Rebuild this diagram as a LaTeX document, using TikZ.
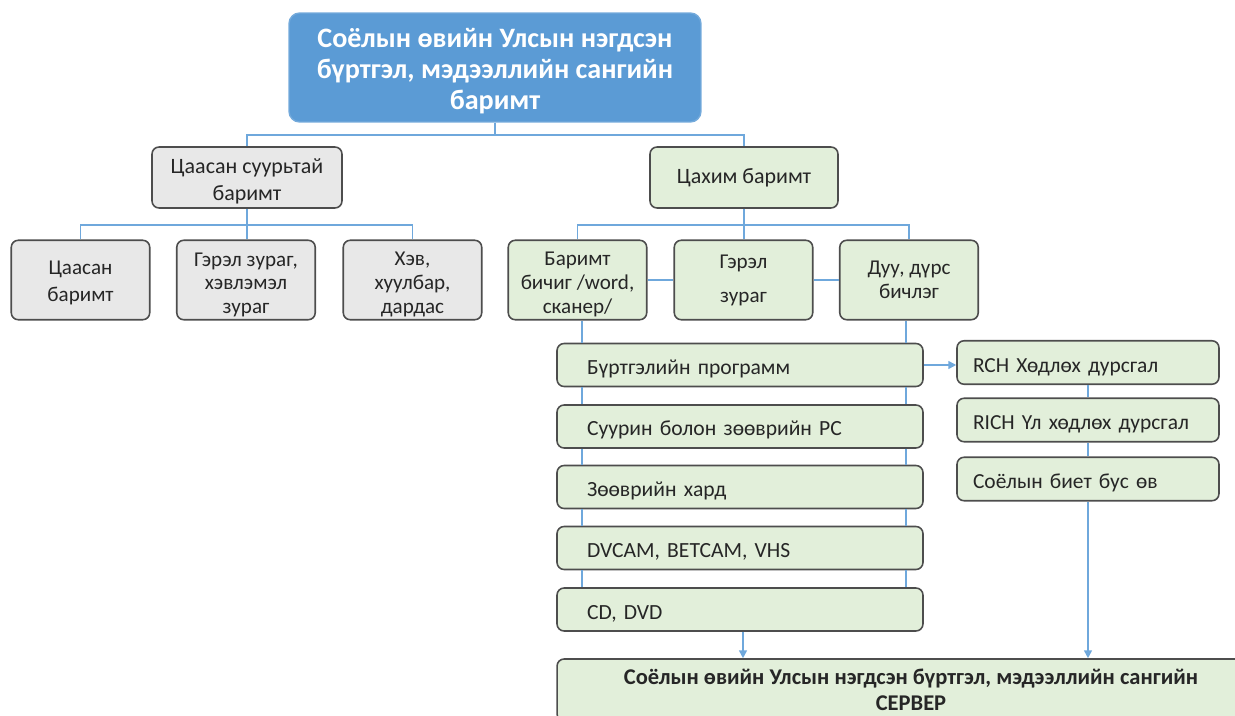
\documentclass[tikz,border=0pt]{standalone}
\usepackage{fontspec}
\setmainfont{Carlito}
\usetikzlibrary{arrows.meta}
\definecolor{topblue}{HTML}{5B9BD5}
\definecolor{linkblue}{HTML}{6FA8DC}
\definecolor{grayfill}{HTML}{E8E8E8}
\definecolor{greenfill}{HTML}{E2EFDA}
\definecolor{boxline}{HTML}{4D4D4D}
\definecolor{txt}{HTML}{262626}
\newcommand{\dnR}[1]{\rule{0pt}{#1em}}
\tikzset{
  x=0.02cm, y=-0.02cm,
  basebox/.style={draw=boxline, line width=0.9pt, rounded corners=4pt, align=center, inner sep=0pt, text=txt},
  topbox/.style={draw=topblue!85!white, fill=topblue, line width=0.8pt, rounded corners=6pt, align=center, text=white,
    font=\fontsize{16}{17.6}\selectfont\bfseries, minimum width=8.24cm, minimum height=2.18cm},
  graybox/.style={basebox, fill=grayfill},
  greenbox/.style={basebox, fill=greenfill},
  midbox/.style={minimum height=1.22cm, font=\fontsize{12.5}{15.3}\selectfont},
  leafbox/.style={minimum width=2.77cm, minimum height=1.59cm, font=\fontsize{12}{13.6}\selectfont},
  stackbox/.style={greenbox, align=left, text width=6.12cm, inner xsep=0.6cm, minimum height=0.86cm, font=\fontsize{12.3}{14}\selectfont},
  rbox/.style={greenbox, align=left, text width=4.6cm, inner xsep=0.32cm, minimum height=0.87cm, font=\fontsize{12.2}{14}\selectfont},
  conn/.style={draw=linkblue, line width=0.9pt},
  arr/.style={conn, -{Triangle[width=4.5pt,length=4.5pt]}},
}
\begin{document}
\begin{tikzpicture}
\useasboundingbox (0,0) rectangle (1235,716);
% nodes
\node[topbox] (top) at (495,67.5) {\dnR{0.94}Соёлын өвийн Улсын нэгдсэн\\бүртгэл, мэдээллийн сангийн\\баримт};
\node[graybox, midbox, minimum width=3.8cm] (paper) at (247,177.5) {\dnR{1.02}Цаасан суурьтай\\баримт};
\node[greenbox, midbox, minimum width=3.76cm] (digital) at (744,177.5) {Цахим баримт};
\node[graybox, leafbox, font=\fontsize{12}{15.3}\selectfont] (p1) at (80.5,280) {\dnR{0.88}Цаасан\\баримт};
\node[graybox, leafbox] (p2) at (246,280) {\dnR{1.1}Гэрэл зураг,\\хэвлэмэл\\зураг};
\node[graybox, leafbox] (p3) at (412.5,280) {\dnR{1.1}Хэв,\\хуулбар,\\дардас};
\node[greenbox, leafbox] (d1) at (577.5,280) {\dnR{1.08}Баримт\\бичиг /word,\\сканер/};
\node[greenbox, leafbox, font=\fontsize{12}{19.3}\selectfont] (d2) at (743.5,280) {Гэрэл\\зураг};
\node[greenbox, leafbox] (d3) at (909,280) {Дуу, дүрс\\бичлэг};
\node[stackbox] (s1) at (740,365) {\dnR{1.07}Бүртгэлийн программ};
\node[stackbox] (s2) at (740,426.5) {\dnR{1.02}Суурин болон зөөврийн PC};
\node[stackbox] (s3) at (740,487) {\dnR{1.05}Зөөврийн хард};
\node[stackbox] (s4) at (740,548) {\dnR{1.02}DVCAM, BETCAM, VHS};
\node[stackbox] (s5) at (740,609.5) {\dnR{1.02}CD, DVD};
\node[rbox] (r1) at (1088,362.5) {\dnR{1.07}RCH Хөдлөх дурсгал};
\node[rbox] (r2) at (1088,420) {\dnR{1.07}RICH Үл хөдлөх дурсгал};
\node[rbox] (r3) at (1088,479) {\dnR{1.07}Соёлын биет бус өв};
\node[greenbox, minimum width=14.16cm, minimum height=1.24cm, font=\fontsize{12.8}{14.7}\selectfont\bfseries] (server) at (911,690) {Соёлын өвийн Улсын нэгдсэн бүртгэл, мэдээллийн сангийн\\СЕРВЕР};
% helper coordinates
\coordinate (b1) at (495,135);
\coordinate (b2) at (247,225);
\coordinate (b3) at (744,225);
\coordinate (lx) at (582,0);
\coordinate (rx) at (906,0);
\coordinate (ax) at (743,0);
% connectors
\draw[conn] (top.south) -- (b1);
\draw[conn] (paper.north) |- (b1) -| (digital.north);
\draw[conn] (paper.south) -- (paper.south |- p2.north);
\draw[conn] (p1.north) |- (b2) -| (p3.north);
\draw[conn] (digital.south) -- (digital.south |- d2.north);
\draw[conn] (d1.north) |- (b3) -| (d3.north);
\draw[conn] (d1.east) -- (d2.west);
\draw[conn] (d2.east) -- (d3.west);
\draw[conn] (d1.south -| lx) -- (s1.north -| lx);
\draw[conn] (d3.south -| rx) -- (s1.north -| rx);
\foreach \a/\b in {s1/s2,s2/s3,s3/s4,s4/s5}{
  \draw[conn] (\a.south -| lx) -- (\b.north -| lx);
  \draw[conn] (\a.south -| rx) -- (\b.north -| rx);
}
\draw[arr] (s1.east) -- (s1.east -| r1.west);
\draw[conn] (r1.south) -- (r2.north);
\draw[conn] (r2.south) -- (r3.north);
\draw[arr] (r3.south) -- (r3.south |- server.north);
\draw[arr] (s5.south -| ax) -- (server.north -| ax);
\end{tikzpicture}
\end{document}
